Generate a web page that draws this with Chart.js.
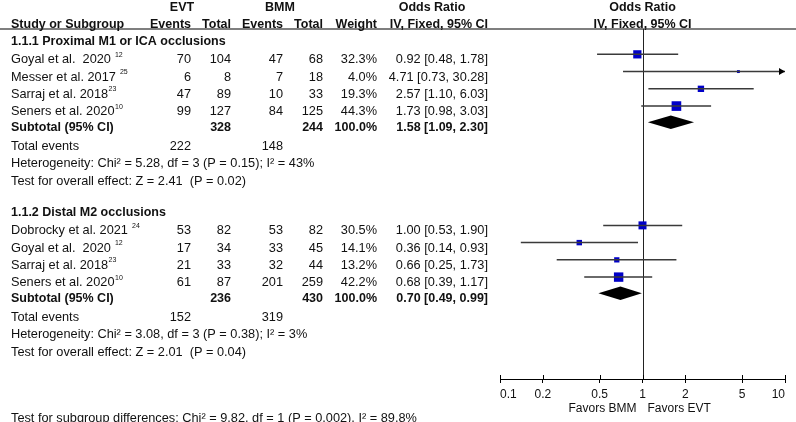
<!DOCTYPE html>
<html>
<head>
<meta charset="utf-8">
<script src="https://cdn.jsdelivr.net/npm/chart.js@4.4.1/dist/chart.umd.min.js"></script>
<style>
  html, body { margin: 0; padding: 0; background: #fff; }
  canvas { display: block; }
</style>
</head>
<body>
<canvas id="forest" width="796" height="422"></canvas>
<script>
const groupTitles = ['1.1.1 Proximal M1 or ICA occlusions', '1.1.2 Distal M2 occlusions']

const studies1 = ['Goyal et al.  2020 ', 'Messer et al. 2017 ', 'Sarraj et al. 2018', 'Seners et al. 2020']
const refs1 = ['12', '25', '23', '10']
const evtEvents1 = [70, 6, 47, 99]
const evtTotal1 = [104, 8, 89, 127]
const bmmEvents1 = [47, 7, 10, 84]
const bmmTotal1 = [68, 18, 33, 125]
const weight1 = [32.3, 4.0, 19.3, 44.3]
const or1 = [0.92, 4.71, 2.57, 1.73]
const lo1 = [0.48, 0.73, 1.10, 0.98]
const hi1 = [1.78, 30.28, 6.03, 3.03]

const studies2 = ['Dobrocky et al. 2021 ', 'Goyal et al.  2020 ', 'Sarraj et al. 2018', 'Seners et al. 2020']
const refs2 = ['24', '12', '23', '10']
const evtEvents2 = [53, 17, 21, 61]
const evtTotal2 = [82, 34, 33, 87]
const bmmEvents2 = [53, 33, 32, 201]
const bmmTotal2 = [82, 45, 44, 259]
const weight2 = [30.5, 14.1, 13.2, 42.2]
const or2 = [1.00, 0.36, 0.66, 0.68]
const lo2 = [0.53, 0.14, 0.25, 0.39]
const hi2 = [1.90, 0.93, 1.73, 1.17]

const subEvtTotal = [328, 236]
const subBmmTotal = [244, 430]
const subOr = [1.58, 0.70]
const subLo = [1.09, 0.49]
const subHi = [2.30, 0.99]
const totalEvt = [222, 152]
const totalBmm = [148, 319]
const heterogeneity = [
    'Heterogeneity: Chi\u00b2 = 5.28, df = 3 (P = 0.15); I\u00b2 = 43%',
    'Heterogeneity: Chi\u00b2 = 3.08, df = 3 (P = 0.38); I\u00b2 = 3%'
]
const overallEffect = [
    'Test for overall effect: Z = 2.41  (P = 0.02)',
    'Test for overall effect: Z = 2.01  (P = 0.04)'
]
const subgroupTest = 'Test for subgroup differences: Chi\u00b2 = 9.82, df = 1 (P = 0.002), I\u00b2 = 89.8%'
const xTicks = [0.1, 0.2, 0.5, 1, 2, 5, 10]

window.onload = () => {
    const groups = [
        { studies: studies1, refs: refs1, evtEv: evtEvents1, evtTot: evtTotal1, bmmEv: bmmEvents1, bmmTot: bmmTotal1, w: weight1, or: or1, lo: lo1, hi: hi1 },
        { studies: studies2, refs: refs2, evtEv: evtEvents2, evtTot: evtTotal2, bmmEv: bmmEvents2, bmmTot: bmmTotal2, w: weight2, or: or2, lo: lo2, hi: hi2 },
    ]

    // row layout (y axis units, one unit = one table line)
    const groupGap = 9.92
    const rows = (g) => {
        const base = g * groupGap
        const n = groups[g].studies.length
        return {
            title: base + 0.42,
            study: (i) => base + 1.47 + i,
            subtotal: base + 1.41 + n,
            total: base + 2.48 + n,
            het: base + 3.5 + n,
            test: base + 4.52 + n,
        }
    }
    const col = { study: 11, evtEv: 191, evtTot: 231, bmmEv: 283, bmmTot: 323, weight: 377, orText: 488 }
    const fmt = (v) => v.toFixed(2)
    const orLabel = (o, l, h) => `${fmt(o)} [${fmt(l)}, ${fmt(h)}]`

    // datasets from the arrays
    const ciData = []
    const pointData = []
    const pointSize = []
    groups.forEach((grp, g) => {
        grp.or.forEach((o, i) => {
            const y = rows(g).study(i)
            ciData.push({ x: grp.lo[i], y }, { x: grp.hi[i], y }, { x: null, y: null })
            pointData.push({ x: o, y })
            pointSize.push(1.45 * Math.sqrt(grp.w[i]) / Math.SQRT2)
        })
    })

    const FONT = '"Liberation Sans", Arial, sans-serif'
    const text = (ctx, str, x, y, align, bold, size) => {
        ctx.font = `${bold ? 'bold ' : ''}${size || (bold ? 12.5 : 12.75)}px ${FONT}`
        ctx.textAlign = align
        ctx.textBaseline = 'middle'
        ctx.fillStyle = '#111'
        ctx.fillText(str, x, y)
        return ctx.measureText(str).width
    }

    const forestPlugin = {
        id: 'forest',
        beforeDatasetsDraw(chart) {
            const { ctx, chartArea, scales: { x } } = chart
            ctx.save()
            // header rule
            ctx.strokeStyle = '#555'
            ctx.lineWidth = 1.6
            ctx.beginPath()
            ctx.moveTo(0, chartArea.top)
            ctx.lineTo(chart.width, chartArea.top)
            ctx.stroke()
            // line of no effect
            ctx.strokeStyle = '#222'
            ctx.lineWidth = 1
            const x1 = Math.round(x.getPixelForValue(1)) + 0.5
            ctx.beginPath()
            ctx.moveTo(x1, chartArea.top)
            ctx.lineTo(x1, chartArea.bottom)
            ctx.stroke()
            // upper half of the axis ticks
            ctx.strokeStyle = '#000'
            xTicks.forEach(t => {
                const px = Math.round(x.getPixelForValue(t)) + 0.5
                ctx.beginPath()
                ctx.moveTo(px, chartArea.bottom - 4)
                ctx.lineTo(px, chartArea.bottom)
                ctx.stroke()
            })
            ctx.restore()
        },
        afterDatasetsDraw(chart) {
            const { ctx, scales: { x, y } } = chart
            ctx.save()
            // arrows for CIs beyond the axis
            groups.forEach((grp, g) => {
                grp.hi.forEach((h, i) => {
                    if (h <= x.max) return
                    const px = x.getPixelForValue(x.max)
                    const py = y.getPixelForValue(rows(g).study(i))
                    ctx.fillStyle = '#000'
                    ctx.beginPath()
                    ctx.moveTo(px, py)
                    ctx.lineTo(px - 6, py - 3.5)
                    ctx.lineTo(px - 6, py + 3.5)
                    ctx.closePath()
                    ctx.fill()
                })
            })
            // subtotal diamonds
            subOr.forEach((o, g) => {
                const py = y.getPixelForValue(rows(g).subtotal)
                const xl = x.getPixelForValue(subLo[g])
                const xh = x.getPixelForValue(subHi[g])
                const xm = x.getPixelForValue(o)
                ctx.fillStyle = '#000'
                ctx.beginPath()
                ctx.moveTo(xl, py)
                ctx.lineTo(xm, py - 6.8)
                ctx.lineTo(xh, py)
                ctx.lineTo(xm, py + 6.8)
                ctx.closePath()
                ctx.fill()
            })
            ctx.restore()
        },
        afterDraw(chart) {
            const { ctx, scales: { x, y }, chartArea } = chart
            const ty = (row) => y.getPixelForValue(row) + 5.5
            const xOne = x.getPixelForValue(1)
            ctx.save()

            // column headers
            let r = ty(-1.55)
            text(ctx, 'EVT', 182, r, 'center', true)
            text(ctx, 'BMM', 280, r, 'center', true)
            text(ctx, 'Odds Ratio', 432, r, 'center', true)
            text(ctx, 'Odds Ratio', xOne, r, 'center', true)
            r = ty(-0.58)
            text(ctx, 'Study or Subgroup', col.study, r, 'left', true)
            text(ctx, 'Events', col.evtEv, r, 'right', true)
            text(ctx, 'Total', col.evtTot, r, 'right', true)
            text(ctx, 'Events', col.bmmEv, r, 'right', true)
            text(ctx, 'Total', col.bmmTot, r, 'right', true)
            text(ctx, 'Weight', col.weight, r, 'right', true)
            text(ctx, 'IV, Fixed, 95% CI', col.orText, r, 'right', true)
            text(ctx, 'IV, Fixed, 95% CI', xOne, r, 'center', true)

            groups.forEach((grp, g) => {
                const rw = rows(g)
                text(ctx, groupTitles[g], col.study, ty(rw.title), 'left', true)
                grp.studies.forEach((name, i) => {
                    const yy = ty(rw.study(i))
                    const wName = text(ctx, name, col.study, yy, 'left')
                    text(ctx, grp.refs[i], col.study + wName + 0.5, yy - 5, 'left', false, 7)
                    text(ctx, String(grp.evtEv[i]), col.evtEv, yy, 'right')
                    text(ctx, String(grp.evtTot[i]), col.evtTot, yy, 'right')
                    text(ctx, String(grp.bmmEv[i]), col.bmmEv, yy, 'right')
                    text(ctx, String(grp.bmmTot[i]), col.bmmTot, yy, 'right')
                    text(ctx, grp.w[i].toFixed(1) + '%', col.weight, yy, 'right')
                    text(ctx, orLabel(grp.or[i], grp.lo[i], grp.hi[i]), col.orText, yy, 'right')
                })
                const ys = ty(rw.subtotal)
                text(ctx, 'Subtotal (95% CI)', col.study, ys, 'left', true)
                text(ctx, String(subEvtTotal[g]), col.evtTot, ys, 'right', true)
                text(ctx, String(subBmmTotal[g]), col.bmmTot, ys, 'right', true)
                text(ctx, '100.0%', col.weight, ys, 'right', true)
                text(ctx, orLabel(subOr[g], subLo[g], subHi[g]), col.orText, ys, 'right', true)
                const yt = ty(rw.total)
                text(ctx, 'Total events', col.study, yt, 'left')
                text(ctx, String(totalEvt[g]), col.evtEv, yt, 'right')
                text(ctx, String(totalBmm[g]), col.bmmEv, yt, 'right')
                text(ctx, heterogeneity[g], col.study, ty(rw.het), 'left')
                text(ctx, overallEffect[g], col.study, ty(rw.test), 'left')
            })

            // favours labels under the axis
            const yf = chartArea.bottom + 29.5
            text(ctx, 'Favors BMM', xOne - 6, yf, 'right', false, 12)
            text(ctx, 'Favors EVT', xOne + 5, yf, 'left', false, 12)

            text(ctx, subgroupTest, col.study, ty(22.3), 'left')
            ctx.restore()
        }
    }

    const config = {
        type: 'scatter',
        data: {
            datasets: [
                {
                    label: 'CI',
                    data: ciData,
                    showLine: true,
                    spanGaps: false,
                    borderColor: '#3a3a3a',
                    borderWidth: 1.5,
                    pointRadius: 0,
                },
                {
                    label: 'Odds ratio',
                    data: pointData,
                    pointStyle: 'rect',
                    pointRadius: pointSize,
                    backgroundColor: '#0000c8',
                    borderWidth: 0,
                },
            ]
        },
        options: {
            responsive: false,
            animation: false,
            layout: { padding: { left: 500, right: 11, top: 29, bottom: 0 } },
            scales: {
                x: {
                    type: 'logarithmic',
                    min: 0.1,
                    max: 10,
                    afterBuildTicks: (scale) => { scale.ticks = xTicks.map(v => ({ value: v })) },
                    afterFit: (scale) => { scale.height = 43 },
                    border: { display: true, color: '#000', width: 1 },
                    grid: { display: true, drawOnChartArea: false, drawTicks: true, tickLength: 4, color: '#000' },
                    ticks: {
                        callback: (value) => String(value),
                        color: '#111',
                        padding: 4,
                        align: 'inner',
                        maxRotation: 0,
                        autoSkip: false,
                        font: { family: FONT, size: 12 }
                    }
                },
                y: {
                    type: 'linear',
                    min: 0,
                    max: 20.3,
                    reverse: true,
                    display: false,
                }
            },
            plugins: {
                legend: { display: false },
                tooltip: { enabled: false },
                title: { display: false }
            }
        },
        plugins: [forestPlugin]
    }
    new Chart(document.getElementById('forest'), config)
}
</script>
</body>
</html>
